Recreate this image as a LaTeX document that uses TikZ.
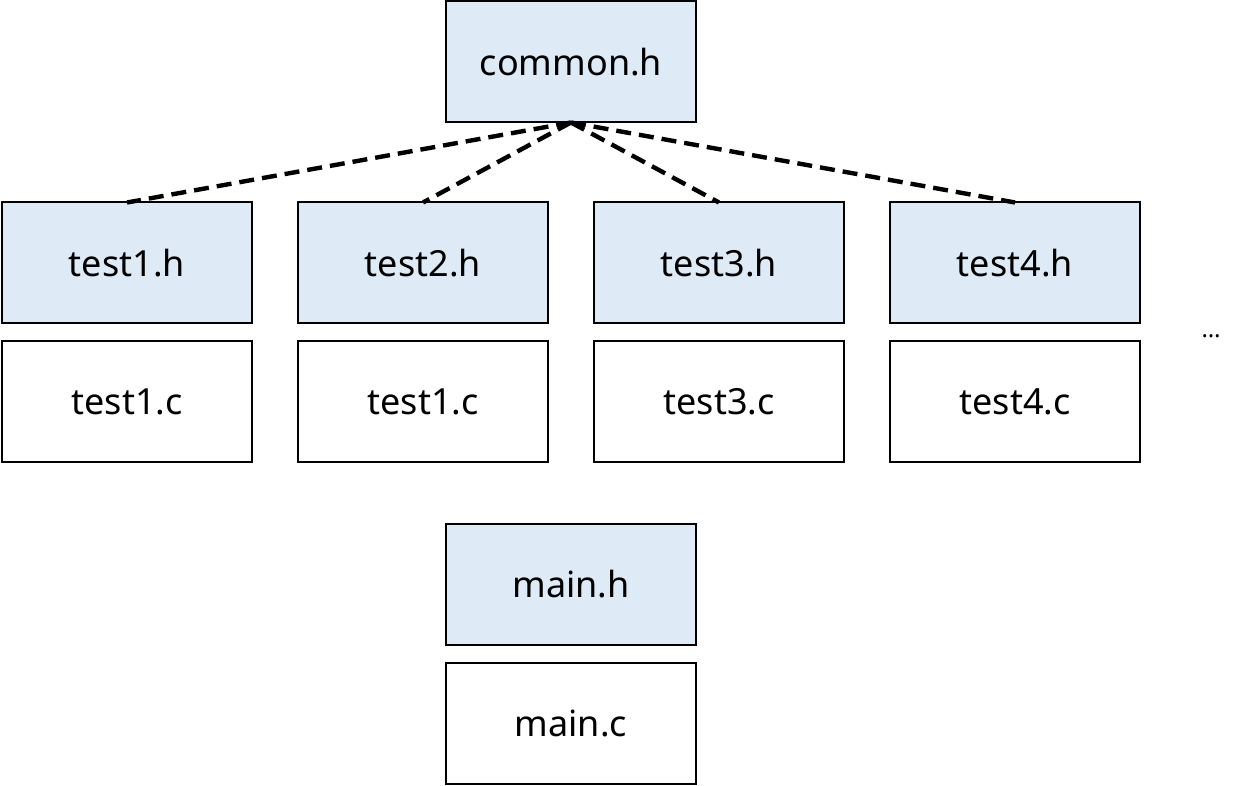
\documentclass[tikz,border=0pt]{standalone}
\usepackage{fontspec}
\setmainfont{Noto Sans}
\usepackage{xcolor}
\usepackage{tikz}
\usetikzlibrary{positioning, calc}

\definecolor{hfill}{RGB}{222,234,246}

\begin{document}
\begin{tikzpicture}[
    node distance=9pt and 23pt,
    hbox/.style={rectangle, draw, line width=1pt, fill=hfill, minimum width=125pt, minimum height=60.5pt, outer sep=0pt, align=center, font=\fontsize{18}{22}\selectfont, inner sep=0pt},
    cbox/.style={rectangle, draw, line width=1pt, fill=white, minimum width=125pt, minimum height=60.5pt, outer sep=0pt, align=center, font=\fontsize{18}{22}\selectfont, inner sep=0pt},
    dep/.style={line width=2.2pt, dash pattern=on 7.5pt off 4pt},
]
\useasboundingbox (-285.5pt,31pt) rectangle (338.5pt,-362pt);

\node[hbox] (common) at (0,0) {common.h};
\node[hbox] (test1h) at (-222pt,-100.5pt) {test1.h};
\node[hbox, right=of test1h] (test2h) {test2.h};
\node[hbox, right=of test2h] (test3h) {test3.h};
\node[hbox, right=of test3h] (test4h) {test4.h};
\node[cbox, below=of test1h] (test1c) {test1.c};
\node[cbox, below=of test2h] (test2c) {test1.c};
\node[cbox, below=of test3h] (test3c) {test3.c};
\node[cbox, below=of test4h] (test4c) {test4.c};
\node[font=\fontsize{12}{14}\selectfont, anchor=base] (more) at ($(test4h.south east)!.5!(test4c.north east)+(35.5pt,-2.5pt)$) {\ldots};
\node[hbox, below=200.5pt of common] (mainh) {main.h};
\node[cbox, below=of mainh] (mainc) {main.c};

% include lines
\foreach \i in {1,...,4}
    \draw[dep] (common.south) -- (test\i h.north);
\end{tikzpicture}
\end{document}
